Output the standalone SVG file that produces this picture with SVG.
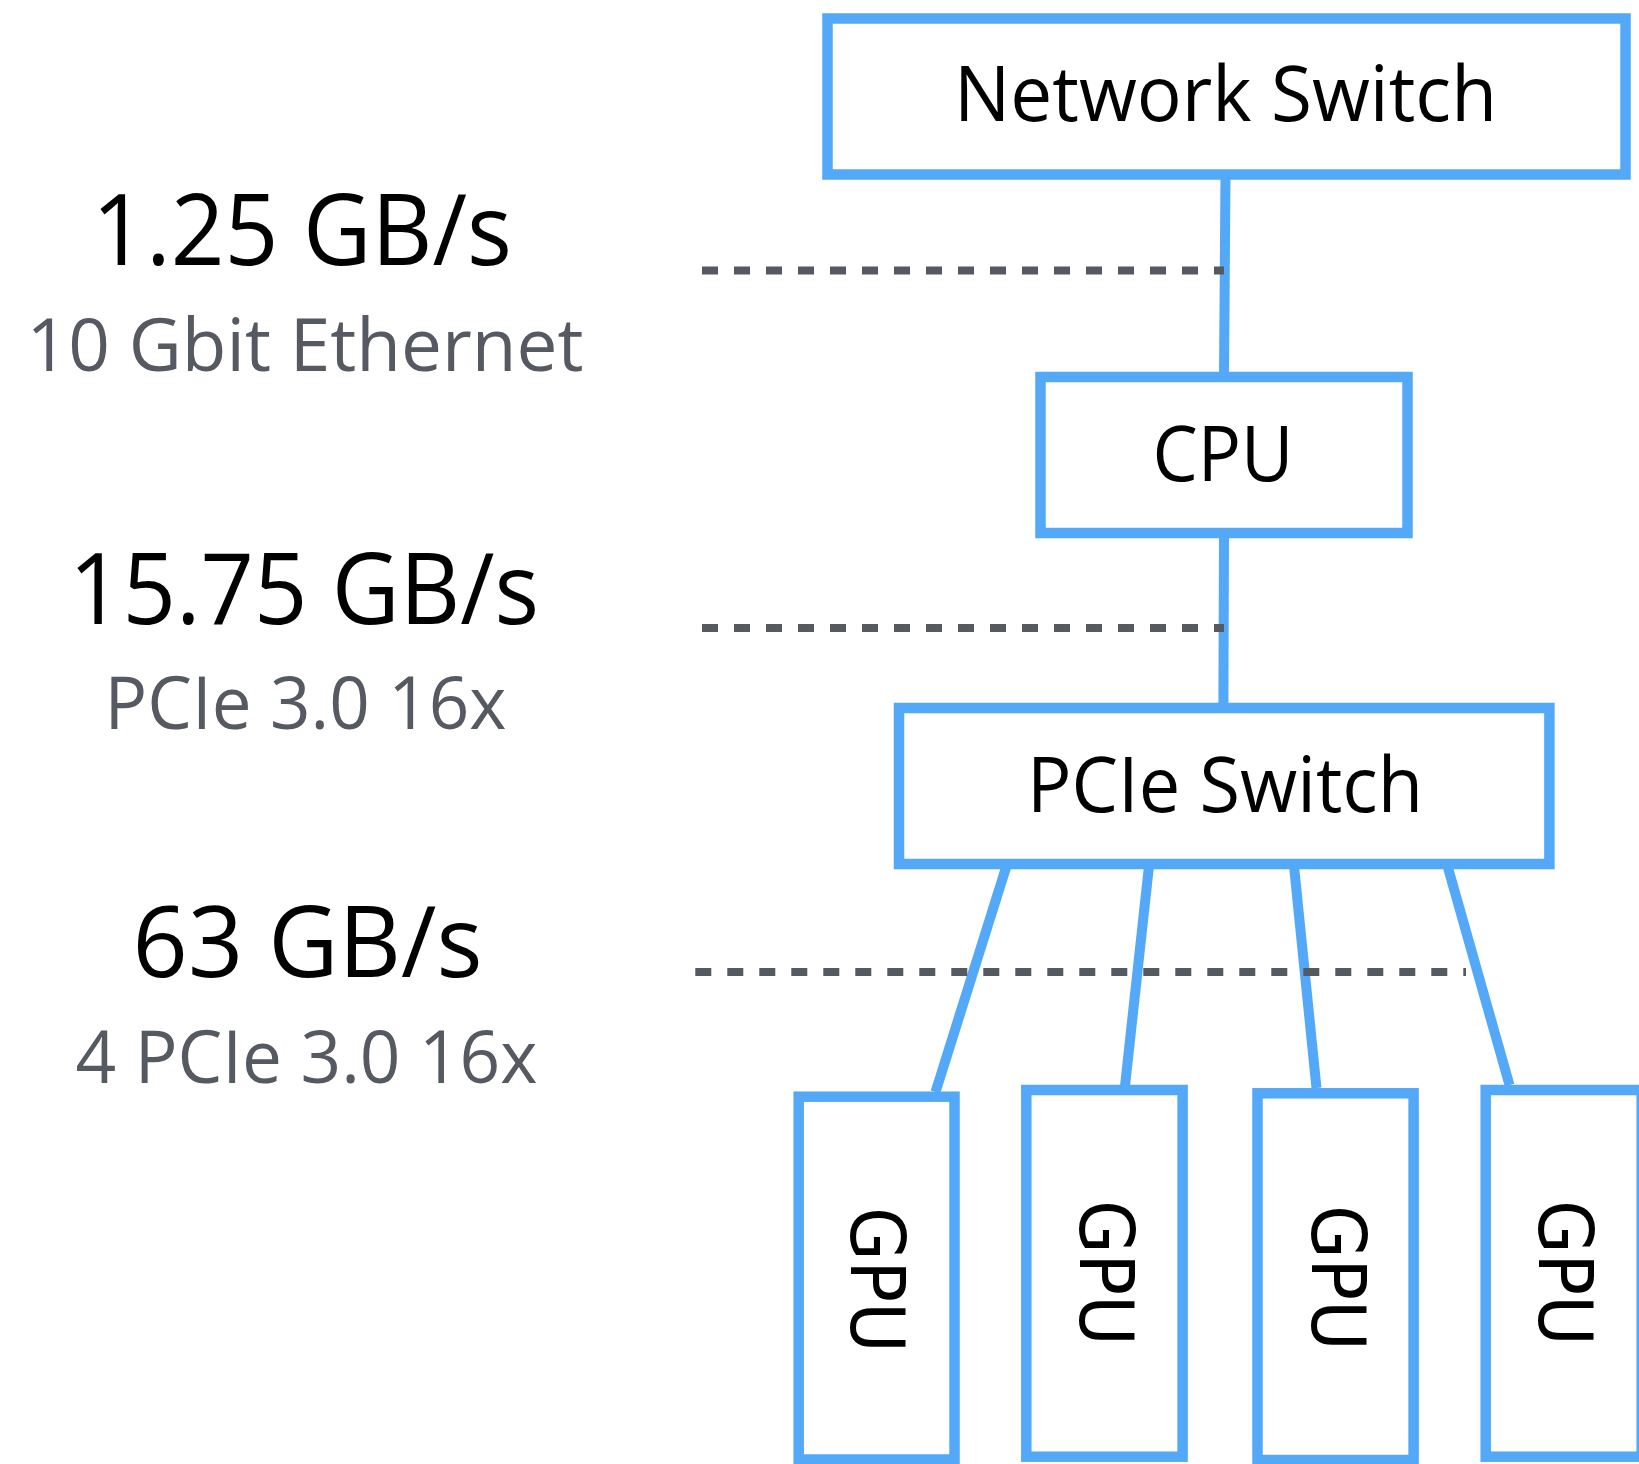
<svg xmlns="http://www.w3.org/2000/svg" width="1639" height="1464" viewBox="0 0 1639 1464">
<style>
.box{fill:#fff;stroke:#54a8f8;stroke-width:10.5}
.conn{stroke:#54a8f8;stroke-width:10;fill:none}
.guide{stroke:#555a62;stroke-width:8;stroke-dasharray:16 16;fill:none}
.lbl{font-family:"Open Sans","Noto Sans",sans-serif;font-size:76px;fill:#000;text-anchor:middle}
.big{font-family:"Open Sans","Noto Sans",sans-serif;font-size:99px;fill:#000;text-anchor:middle}
.sub{font-family:"Open Sans","Noto Sans",sans-serif;font-size:73px;fill:#555a62;text-anchor:middle}
.gpu{font-family:"DejaVu Sans",sans-serif;font-size:74px;fill:#000;text-anchor:middle}
</style>
<rect width="1639" height="1464" fill="#fff"/>
<g id="connectors">
<line class="conn" x1="1225.5" y1="174" x2="1224" y2="377"/>
<line class="conn" x1="1224" y1="533" x2="1223.4" y2="708"/>
<line class="conn" x1="1006.5" y1="866" x2="935.5" y2="1092"/>
<line class="conn" x1="1149" y1="866" x2="1125" y2="1086"/>
<line class="conn" x1="1294" y1="866" x2="1316.5" y2="1088"/>
<line class="conn" x1="1447.5" y1="866" x2="1509.5" y2="1085"/>
</g>
<g id="node-network-switch">
<rect class="box" x="827.5" y="18.5" width="798" height="156"/>
<text class="lbl" x="1225.5" y="120.7" textLength="543" lengthAdjust="spacingAndGlyphs">Network Switch</text>
</g>
<g id="node-cpu">
<rect class="box" x="1040.5" y="377" width="367" height="156"/>
<text class="lbl" x="1223" y="481" textLength="141" lengthAdjust="spacingAndGlyphs">CPU</text>
</g>
<g id="node-pcie-switch">
<rect class="box" x="899" y="708" width="650.4" height="156"/>
<text class="lbl" x="1225" y="811.7" textLength="396" lengthAdjust="spacingAndGlyphs">PCIe Switch</text>
</g>
<g id="node-gpu1">
<rect class="box" x="798.7" y="1096.7" width="155.8" height="362.8"/>
<text class="gpu" transform="translate(851,1280) rotate(90)" textLength="146" lengthAdjust="spacingAndGlyphs">GPU</text>
</g>
<g id="node-gpu2">
<rect class="box" x="1026.3" y="1090" width="156.3" height="366.7"/>
<text class="gpu" transform="translate(1080,1273) rotate(90)" textLength="146" lengthAdjust="spacingAndGlyphs">GPU</text>
</g>
<g id="node-gpu3">
<rect class="box" x="1257.5" y="1093.3" width="156.1" height="366.7"/>
<text class="gpu" transform="translate(1312,1278) rotate(90)" textLength="146" lengthAdjust="spacingAndGlyphs">GPU</text>
</g>
<g id="node-gpu4">
<rect class="box" x="1485.7" y="1090" width="156" height="366.7"/>
<text class="gpu" transform="translate(1538.5,1273) rotate(90)" textLength="146" lengthAdjust="spacingAndGlyphs">GPU</text>
</g>
<g id="guides">
<line class="guide" x1="702" y1="270.5" x2="1224" y2="270.5"/>
<line class="guide" x1="702" y1="628" x2="1224" y2="628"/>
<line class="guide" x1="695.3" y1="972" x2="1466" y2="972"/>
</g>
<g id="bandwidth-labels">
<text class="big" x="302" y="265" textLength="420" lengthAdjust="spacingAndGlyphs">1.25 GB/s</text>
<text class="sub" x="305" y="371" textLength="557" lengthAdjust="spacingAndGlyphs">10 Gbit Ethernet</text>
<text class="big" x="304" y="623.5" textLength="470" lengthAdjust="spacingAndGlyphs">15.75 GB/s</text>
<text class="sub" x="305.5" y="728.6" textLength="402" lengthAdjust="spacingAndGlyphs">PCIe 3.0 16x</text>
<text class="big" x="307.6" y="976.5" textLength="350" lengthAdjust="spacingAndGlyphs">63 GB/s</text>
<text class="sub" x="306.5" y="1083.3" textLength="462" lengthAdjust="spacingAndGlyphs">4 PCIe 3.0 16x</text>
</g>
</svg>
